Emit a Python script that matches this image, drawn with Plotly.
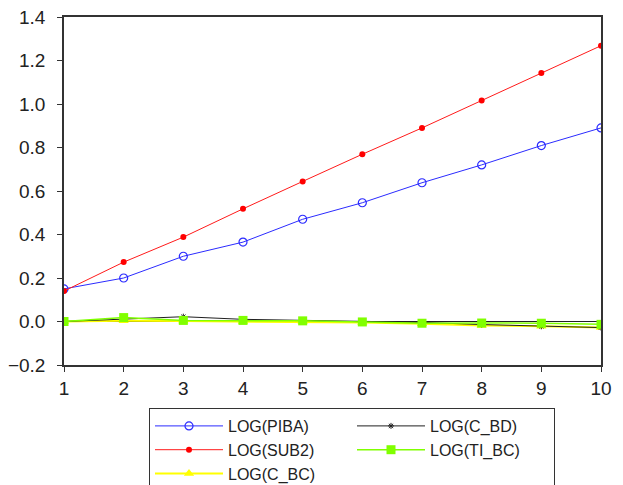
import plotly.graph_objects as go

x = [1, 2, 3, 4, 5, 6, 7, 8, 9, 10]
piba = [0.15, 0.20, 0.30, 0.365, 0.47, 0.546, 0.638, 0.72, 0.809, 0.89]
sub2 = [0.14, 0.273, 0.388, 0.518, 0.644, 0.769, 0.89, 1.016, 1.142, 1.268]
c_bd = [0.0, 0.012, 0.022, 0.01, 0.005, 0.0, -0.004, -0.014, -0.022, -0.028]
ti_bc = [0.0, 0.018, 0.005, 0.005, 0.003, -0.002, -0.008, -0.007, -0.008, -0.013]
c_bc = [0.0, 0.004, 0.002, 0.0, 0.0, -0.005, -0.01, -0.018, -0.022, -0.028]

FONT = "Liberation Sans, Arial, sans-serif"

fig = go.Figure()
fig.add_trace(go.Scatter(x=x, y=piba, name="LOG(PIBA)", mode="lines+markers", legendrank=1,
                         line=dict(color="#2b2bff", width=1),
                         marker=dict(symbol="circle-open", size=8, color="#2b2bff", line=dict(width=1.2))))
fig.add_trace(go.Scatter(x=x, y=sub2, name="LOG(SUB2)", mode="lines+markers", legendrank=3,
                         line=dict(color="#ff1a1a", width=1),
                         marker=dict(symbol="circle", size=6, color="#ff0000")))
fig.add_trace(go.Scatter(x=x, y=c_bc, name="LOG(C_BC)", mode="lines+markers", legendrank=5,
                         line=dict(color="#ffff00", width=2),
                         marker=dict(symbol="triangle-up", size=9, color="#ffff00")))
fig.add_trace(go.Scatter(x=x, y=c_bd, name="LOG(C_BD)", mode="lines+markers", legendrank=2,
                         line=dict(color="#202020", width=1),
                         marker=dict(symbol="asterisk-open", size=5, color="#202020", line=dict(width=1, color="#202020"))))
fig.add_trace(go.Scatter(x=x, y=ti_bc, name="LOG(TI_BC)", mode="lines+markers", legendrank=4,
                         line=dict(color="#80ff00", width=1.5),
                         marker=dict(symbol="square", size=9, color="#80ff00")))

fig.update_layout(
    width=623, height=485,
    margin=dict(l=64, r=22, t=17, b=120, autoexpand=False),
    paper_bgcolor="white", plot_bgcolor="white",
    font=dict(family=FONT, size=19, color="#222222"),
    legend=dict(orientation="h", xref="container", yref="container",
                x=149 / 623, y=1 - 408 / 485, xanchor="left", yanchor="top",
                bordercolor="#333333", borderwidth=1, entrywidth=119, itemwidth=68,
                tracegroupgap=0,
                font=dict(family=FONT, size=16, color="#222222")),
    xaxis=dict(range=[1, 10], tickvals=x, showgrid=False, zeroline=False,
               showline=True, linecolor="#333333", linewidth=1.5, mirror=True,
               ticks="outside", ticklen=5, tickcolor="#333333"),
    yaxis=dict(range=[-0.2, 1.4], tickvals=[-0.2, 0, 0.2, 0.4, 0.6, 0.8, 1.0, 1.2, 1.4],
               tickformat=".1f", showgrid=False, zeroline=False,
               showline=True, linecolor="#333333", linewidth=1.5, mirror=True,
               ticks="outside", ticklen=5, tickcolor="#333333", ticklabelstandoff=8),
)
fig.add_shape(type="line", xref="x", yref="y", x0=1, x1=10, y0=0, y1=0,
              line=dict(color="#202020", width=1), layer="below")

fig.write_html("out.html")
